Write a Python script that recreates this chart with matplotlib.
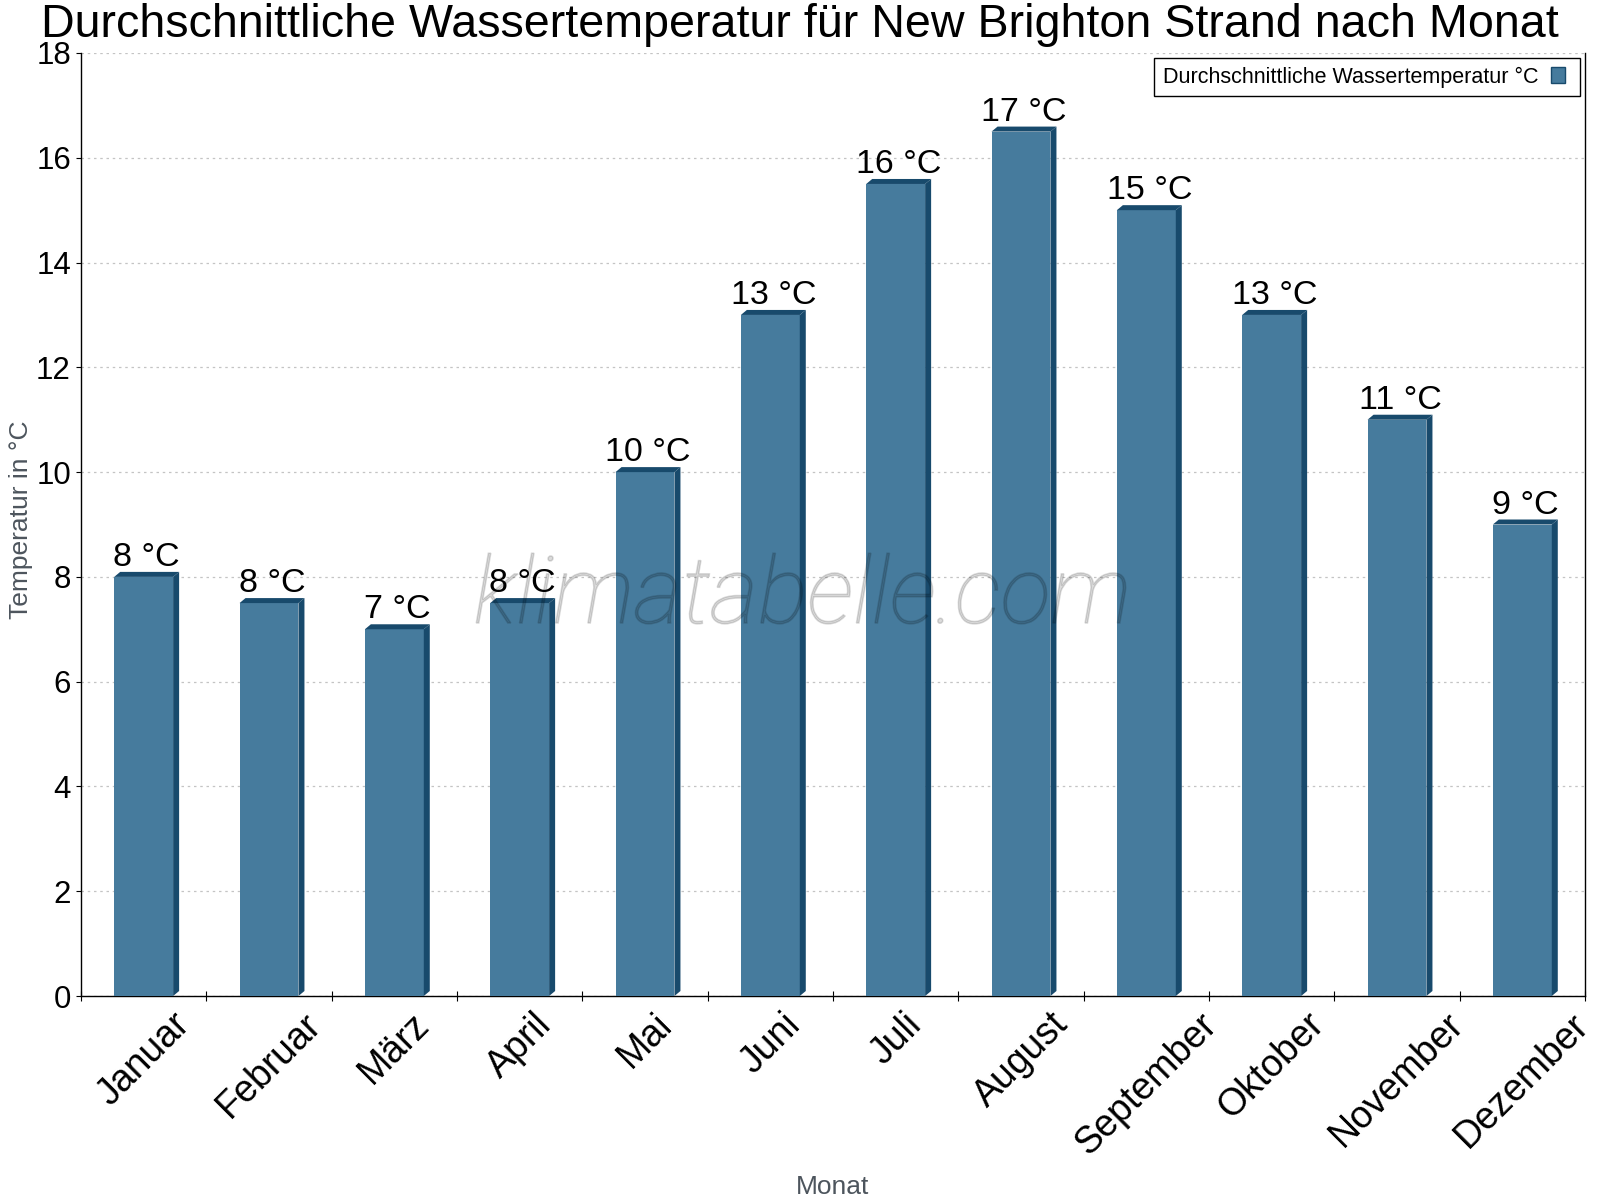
import math
import matplotlib
matplotlib.use("Agg")
import matplotlib.pyplot as plt
from matplotlib.patches import Polygon, Rectangle, PathPatch
from matplotlib.legend_handler import HandlerPatch
from matplotlib.textpath import TextPath
from matplotlib.font_manager import FontProperties
from matplotlib.transforms import IdentityTransform, Affine2D
import numpy as np

months = ["Januar", "Februar", "März", "April", "Mai", "Juni", "Juli",
          "August", "September", "Oktober", "November", "Dezember"]
water_temp = [8, 7.5, 7, 7.5, 10, 13, 15.5, 16.5, 15, 13, 11, 9]
y_ticks = [0, 2, 4, 6, 8, 10, 12, 14, 16, 18]

title = "Durchschnittliche Wassertemperatur für New Brighton Strand nach Monat"
series_name = "Durchschnittliche Wassertemperatur °C"
y_label = "Temperatur in °C"
x_label = "Monat"
watermark = "klimatabelle.com"

FRONT = "#467b9d"
DARK = "#184a6c"
W, H = 1600, 1200

plt.rcParams['font.family'] = ['Liberation Sans', 'DejaVu Sans']

fig = plt.figure(figsize=(16, 12), dpi=100)
ax = fig.add_axes([81 / W, 1 - 996 / H, 1504 / W, 943 / H])

x = np.arange(len(months))
bw = 0.47
ax.set_xlim(-0.5, len(months) - 0.5)
ax.set_ylim(0, 18)

# pixel-to-data conversion for the 3D depth effect
px_x = (len(months)) / 1504.0
px_y = 18 / 943.0
dx, dy = 6 * px_x, 5 * px_y

ax.bar(x, water_temp, width=bw, color=FRONT, zorder=3)
for xi, v in zip(x, water_temp):
    L, R = xi - bw / 2, xi + bw / 2
    top = Polygon([(L, v), (L + dx, v + dy), (R + dx, v + dy), (R, v)],
                  closed=True, facecolor=DARK, edgecolor='none', zorder=3)
    side = Polygon([(R, 0), (R, v), (R + dx, v + dy), (R + dx, dy)],
                   closed=True, facecolor=DARK, edgecolor='none', zorder=3)
    ax.add_patch(top)
    ax.add_patch(side)
    ax.annotate(f"{math.floor(v + 0.5)} °C", xy=(xi, v), xytext=(3, 11),
                textcoords='offset pixels', ha='center', va='baseline',
                fontsize=24.5, color='black', zorder=5)

# grid
ax.set_yticks(y_ticks)
ax.yaxis.grid(True, linestyle=(0, (2, 3)), color='#c4c4c4', linewidth=0.9, zorder=0)
ax.set_axisbelow(True)

# spines
ax.spines['top'].set_visible(False)
for s in ['left', 'bottom', 'right']:
    ax.spines[s].set_linewidth(1.0)
    ax.spines[s].set_color('black')

# x ticks: marks at boundaries, labels at centers
ax.set_xticks(np.arange(-0.5, len(months), 1.0))
ax.set_xticklabels([])
ax.set_xticks(x, minor=True)
ax.set_xticklabels(months, minor=True, rotation=45, ha='center', fontsize=27)
ax.tick_params(axis='x', which='major', direction='inout', length=6.5, width=0.8)
ax.tick_params(axis='x', which='minor', length=0, pad=7.5)
ax.tick_params(axis='y', direction='out', length=3.6, width=0.8, pad=3.6,
               labelsize=22.5)


def small_box(legend, orig_handle, xdescent, ydescent, width, height, fontsize):
    return Rectangle((-xdescent, -ydescent), width * 0.7, height)


# legend
proxy = Rectangle((0, 0), 1, 1, facecolor=FRONT, edgecolor=DARK, linewidth=1.0)
leg = ax.legend([proxy], [series_name], loc='upper right',
                bbox_to_anchor=(1580 / W, 1 - 58 / H),
                bbox_transform=fig.transFigure, borderaxespad=0,
                fontsize=15.5, markerfirst=False, fancybox=False, shadow=False,
                framealpha=1, edgecolor='black', handlelength=0.95,
                handleheight=0.75, handletextpad=0.6, borderpad=0.4,
                handler_map={Rectangle: HandlerPatch(patch_func=small_box)})
leg.get_frame().set_linewidth(1.0)

# texts
fig.text(800 / W, 1 - 37 / H, title, ha='center', va='baseline', fontsize=33.6)
fig.text(21 / W, 1 - 520 / H, y_label, rotation=90, ha='center', va='center',
         fontsize=19, color='#4d555d')
fig.text(833 / W, 1 - 1194 / H, x_label, ha='center', va='baseline',
         fontsize=19, color='#4d555d')

# watermark: thin italic glyph outlines, slightly thickened
fp = FontProperties(family=['Roboto', 'DejaVu Sans'], weight='light', style='italic')
tp = TextPath((0, 0), watermark, size=67 * 100 / 72, prop=fp)
ext = tp.get_extents()
cx = (ext.x0 + ext.x1) / 2
tr = Affine2D().translate(801 - cx, H - 623)
wm = PathPatch(tr.transform_path(tp), transform=IdentityTransform(),
               facecolor='black', edgecolor='black', linewidth=1.1,
               alpha=0.14, zorder=10)
fig.add_artist(wm)

fig.savefig("out.png", dpi=100)
